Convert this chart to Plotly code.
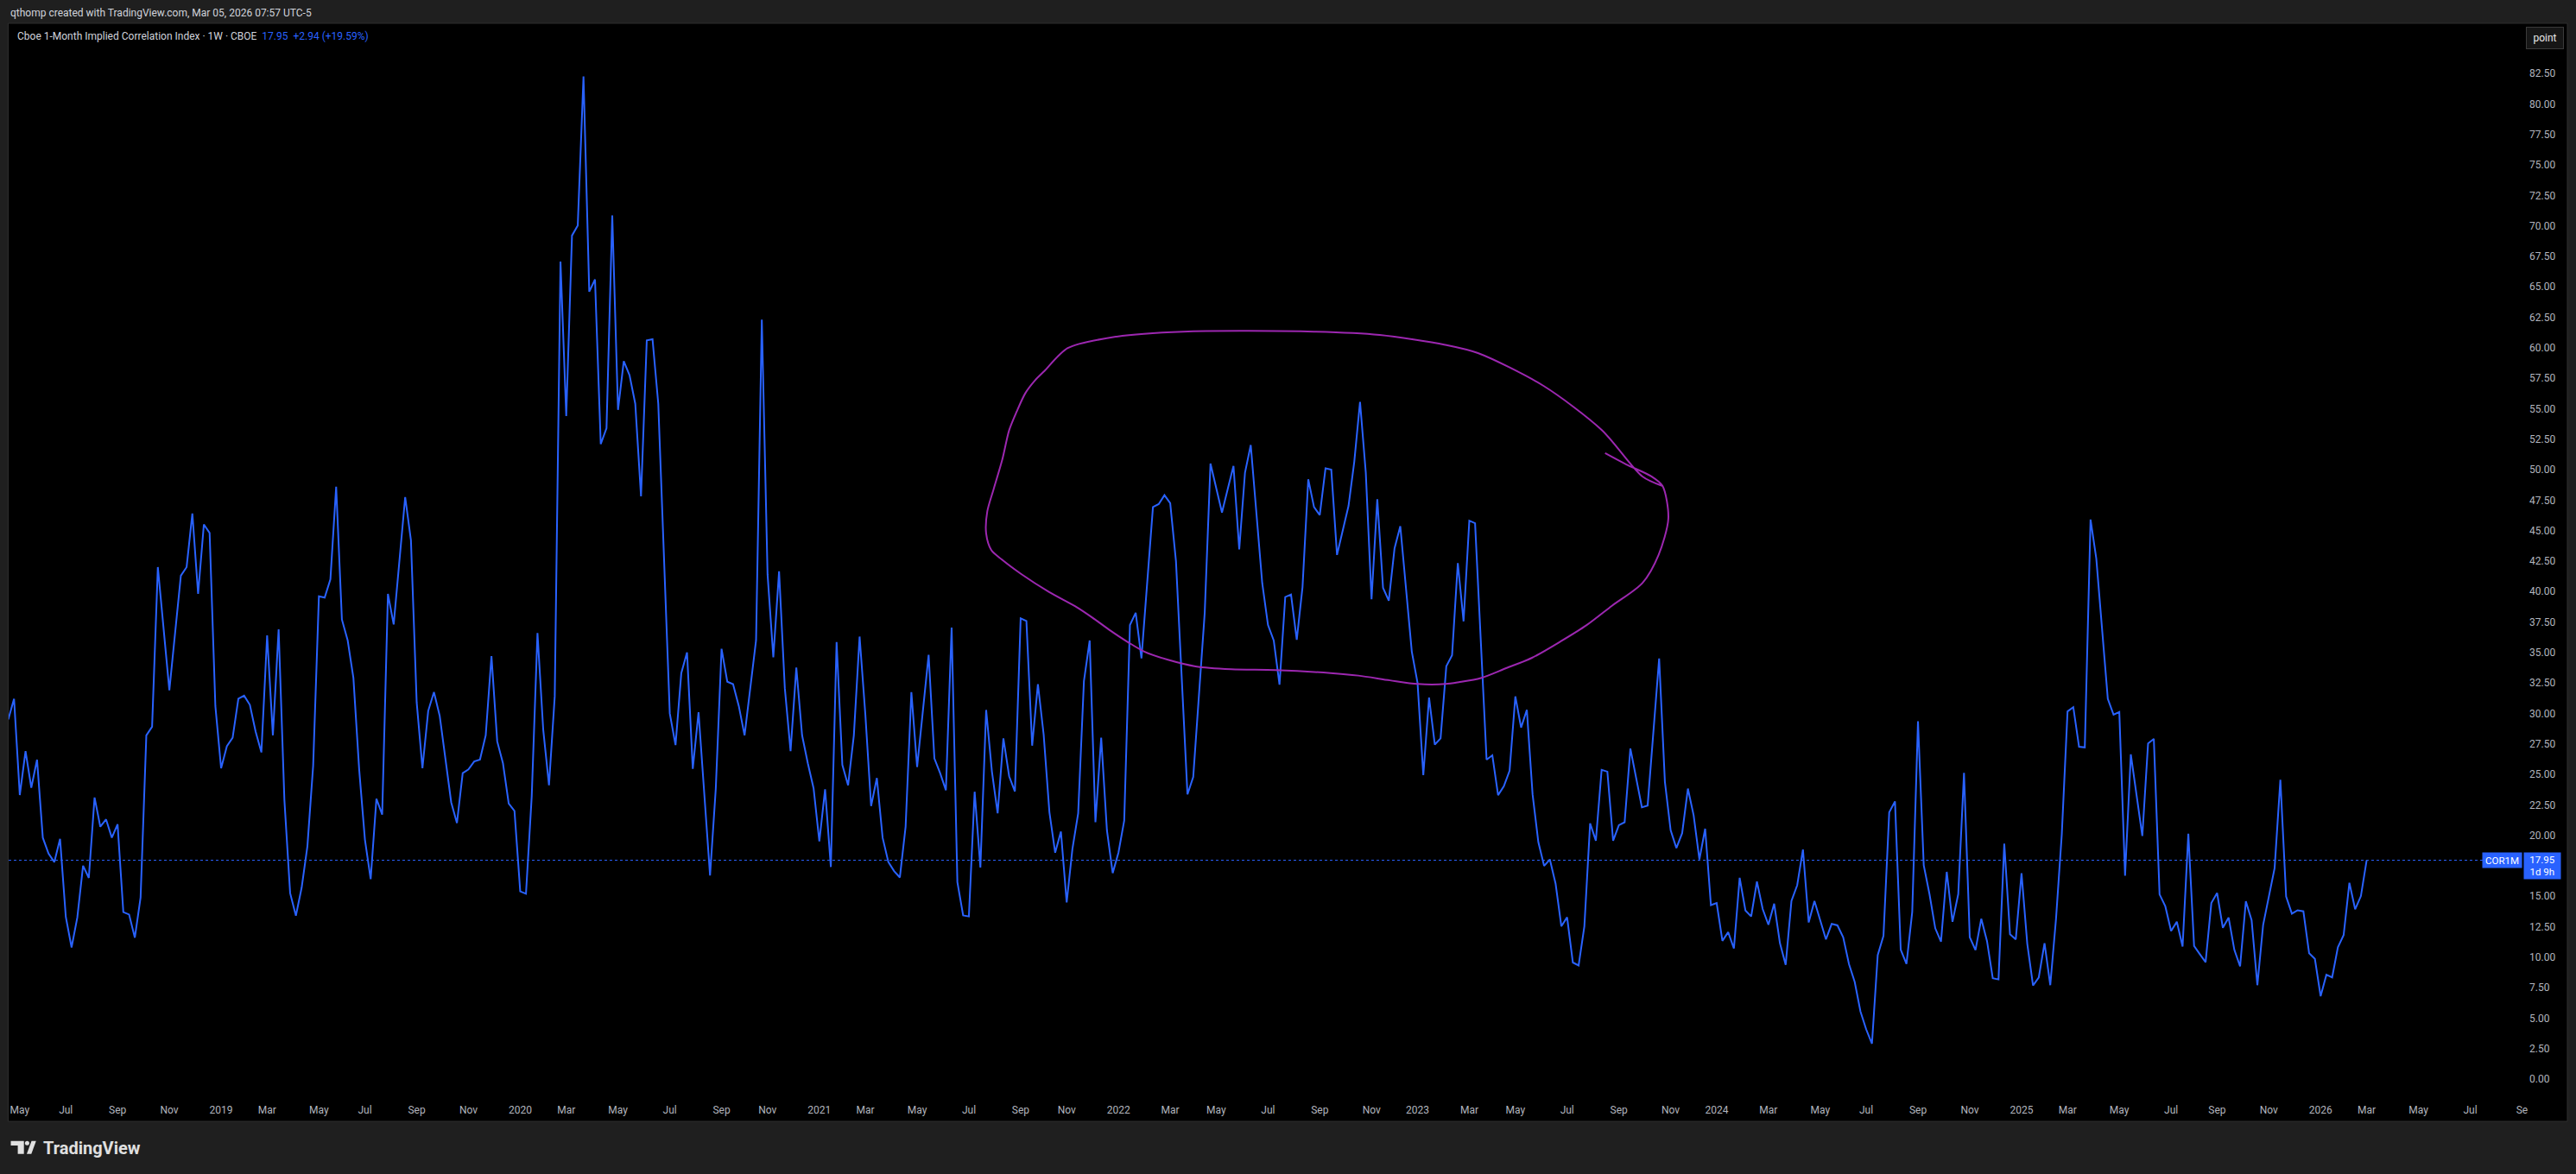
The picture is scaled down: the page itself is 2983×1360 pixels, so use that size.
import numpy as np
import pandas as pd
import plotly.graph_objects as go

# ---------------- data (weekly closes) ----------------
first_bar = "2018-04-23"
cor1m = [
    29.5, 31.2, 23.3, 26.9, 23.9, 26.2, 19.8, 18.5, 17.8, 19.7,
    13.3, 10.8, 13.25, 17.5, 16.5, 23.1, 20.7, 21.3, 19.8, 20.9,
    13.7, 13.5, 11.6, 14.9, 28.2, 28.9, 42.0, None, 31.9, None,
    41.3, 42.0, 46.4, 39.8, 45.5, 44.8, 30.6, 25.5, 27.3, 28.0,
    31.2, 31.45, 30.7, 28.5, 26.8, 36.4, 28.2, 36.9, 22.9, 15.25,
    13.4, 15.7, 19.1, 25.7, 39.6, 39.5, 41.0, 48.6, 37.7, 36.0,
    32.9, 25.4, 19.65, 16.4, 23.0, 21.7, 39.8, 37.3, None, 47.75,
    44.2, 30.9, 25.5, 30.2, 31.75, 29.8, 26.2, 22.7, 21.0, 25.1,
    25.4, 26.05, 26.2, 28.2, 34.7, 27.7, 25.9, 22.6, 22.0, 15.4,
    15.2, 23.2, 36.6, 28.65, 24.1, 31.4, 67.06, 54.4, 69.2, 70.03,
    82.25, 64.6, 65.6, 52.1, 53.4, 70.85, 54.9, 58.9, 57.75, 55.4,
    47.8, 60.6, 60.7, 55.4, None, 30.0, 27.4, 33.3, 35.0, 25.45,
    30.1, None, 16.7, 23.85, 35.3, 32.6, 32.4, 30.6, 28.2, 32.1,
    36.0, 62.3, 41.4, 34.6, 41.65, 32.07, 26.9, 33.76, 28.2, 25.9,
    23.85, 19.5, 23.77, 17.4, 35.85, 25.77, 24.1, 28.2, 36.3, 29.9,
    22.4, 24.7, 19.8, 17.8, 17.06, 16.54, 20.7, 31.74, 25.6, None,
    34.8, 26.3, 25.1, 23.7, 37.04, 16.15, 13.43, 13.34, 23.57, 17.36,
    30.28, 25.24, 21.8, 27.95, 24.84, 23.6, 37.8, 37.58, 27.35, 32.4,
    28.26, 21.9, 18.57, 20.3, 14.49, 18.88, 21.8, 32.65, 35.98, 21.08,
    28.0, 20.4, 16.9, 18.57, 21.2, 37.25, 38.25, 34.52, None, 46.93,
    47.17, 47.9, 47.24, 42.48, None, 23.35, 24.78, None, 38.25, 50.5,
    48.4, 46.48, 48.4, 50.3, 43.45, 49.75, 52.02, None, 40.67, 37.25,
    35.98, 32.35, 39.55, 39.76, 36.04, 40.36, 49.2, 46.93, 46.27, 50.11,
    49.99, 43.0, 45.0, 47.02, 50.65, 55.56, 49.75, 39.37, 47.57, 40.3,
    39.24, 43.54, 45.36, None, 35.07, 32.5, 24.93, 31.29, 27.44, 27.95,
    33.86, 34.77, 42.33, 37.55, 45.81, 45.6, None, 26.2, 26.56, 23.29,
    24.02, 25.3, 31.39, 28.83, 30.29, 23.34, 19.44, 17.49, 18.02, 16.02,
    12.53, 13.27, 9.56, 9.32, 12.53, 20.97, 19.56, 25.37, 25.22, 19.56,
    20.83, 21.07, 27.12, None, 22.29, 22.44, None, 34.51, 24.39, 20.41,
    18.95, 20.17, 23.83, 21.63, 18.02, 20.54, 14.27, 14.44, 11.34, 12.05,
    10.71, 16.51, 13.83, 13.34, 16.2, 13.95, 12.66, 14.39, 11.15, 9.37,
    14.61, 15.9, 18.83, 12.85, 14.61, 12.98, 11.46, 12.73, 12.61, 11.63,
    9.44, 7.97, 5.54, 4.07, 2.9, 10.17, 11.75, 21.88, 22.78, 10.61,
    9.44, 13.71, 29.36, 17.54, 15.17, 12.37, 11.27, 17.0, 12.9, 15.17,
    25.12, 11.63, 10.58, 13.15, 11.32, 8.27, 8.17, 19.32, 11.88, 11.46,
    16.88, 11.1, 7.67, 8.34, 11.14, 7.7, 13.17, 20.08, 30.16, 30.51,
    27.26, 27.21, 45.9, 42.7, None, 31.19, 29.89, 30.11, 16.69, 26.64,
    None, 19.94, 27.53, 27.91, 15.15, 14.17, 12.14, 12.9, 10.87, 20.13,
    10.92, 10.24, 9.59, 14.44, 15.26, 12.41, 13.25, 10.6, 9.24, 14.58,
    13.03, 7.7, 12.63, None, 17.31, 24.55, 14.98, 13.57, 13.85, 13.76,
    10.32, 9.86, 6.8, 8.56, 8.34, 10.81, 11.81, 16.1, 13.93, 15.01, 17.95,
]
last_value = 17.95

# freehand ellipse drawing (weeks after first bar, value)
circle_week = [277.6, 281.3, 285.6, 287.6, 288.6, 286.9, 284.1, 278.8, 274.4, 269.9,
               264.9, 260.4, 256.0, 252.2, 249.9, 245.0, 240.2, 234.7, 229.9, 220.2,
               212.6, 206.4, 201.6, 197.5, 194.7, 191.3, 188.5, 185.8, 180.9, 176.1,
               172.7, 170.9, 170.0, 170.2, 171.3, 172.8, 174.0, 175.3, 176.8, 178.5,
               180.1, 184.2, 192.7, 204.2, 227.0, 238.4, 249.8, 255.5, 266.9, 277.0,
               284.1, 287.6]
circle_value = [51.35, 50.42, 49.46, 48.65, 46.0, 43.0, 40.7, 38.83, 37.24, 35.91,
                34.56, 33.71, 32.9, 32.56, 32.41, 32.41, 32.71, 33.1, 33.31, 33.55,
                33.62, 33.86, 34.4, 35.07, 35.83, 36.89, 37.85, 38.7, 39.97, 41.43,
                42.63, 43.39, 44.76, 46.57, 48.39, 50.81, 53.23, 54.75, 56.26, 57.32,
                58.07, 59.97, 60.91, 61.32, 61.32, 61.05, 60.24, 59.56, 56.87, 53.26,
                49.43, 48.65]

tick_labels = ["May", "Jul", "Sep", "Nov",
               "2019", "Mar", "May", "Jul", "Sep", "Nov",
               "2020", "Mar", "May", "Jul", "Sep", "Nov",
               "2021", "Mar", "May", "Jul", "Sep", "Nov",
               "2022", "Mar", "May", "Jul", "Sep", "Nov",
               "2023", "Mar", "May", "Jul", "Sep", "Nov",
               "2024", "Mar", "May", "Jul", "Sep", "Nov",
               "2025", "Mar", "May", "Jul", "Sep", "Nov",
               "2026", "Mar", "May", "Jul", "Se"]
# 17.50 sits under the last-price label in the reference, so it is not shown
y_ticks = [v for v in np.arange(0, 82.51, 2.5) if abs(v - 17.5) > 1e-6]

# ---------------- layout geometry ----------------
W_FIG, H_FIG = 2983, 1360
ML, MR, MT, MB = 10, 62, 28, 89
PW = W_FIG - ML - MR
PH = H_FIG - MT - MB
PX_PER_WEEK = 6.662
PX_PER_UNIT = 14.12
ZERO_Y = 1250


def px(x):
    return (x - ML) / PW


def py(y):
    return (H_FIG - MB - y) / PH


start = pd.Timestamp(first_bar)
dates = pd.date_range(start, periods=len(cor1m), freq="7D")
circle_dates = start + pd.to_timedelta(np.array(circle_week) * 7, unit="D")

x0 = start + pd.Timedelta(days=(ML - 9.6) / PX_PER_WEEK * 7)
x1 = x0 + pd.Timedelta(days=PW / PX_PER_WEEK * 7 + 0.5)
y_lo = (ZERO_Y - (H_FIG - MB)) / PX_PER_UNIT
y_hi = (ZERO_Y - MT) / PX_PER_UNIT

tick_months = pd.date_range("2018-05-01", periods=len(tick_labels), freq="2MS")
tick_vals = [m + pd.Timedelta(days=(7 - m.weekday()) % 7) for m in tick_months]

BLUE = "#2962ff"
FONT = "Roboto, Liberation Sans, sans-serif"
AXIS_TXT = "#b2b5be"

fig = go.Figure()
fig.add_trace(go.Scatter(x=dates, y=cor1m, mode="lines", connectgaps=True,
                         line=dict(color=BLUE, width=2), hoverinfo="skip"))
fig.add_trace(go.Scatter(x=circle_dates, y=circle_value, mode="lines",
                         line=dict(color="#9c27b0", width=2, shape="spline", smoothing=0.8),
                         hoverinfo="skip"))

shapes = [
    # chart panel
    dict(type="rect", xref="paper", yref="paper", x0=px(9.5), x1=px(2973), y0=py(1299), y1=py(27),
         fillcolor="#000000", line=dict(color="#2e2e2e", width=1), layer="below"),
    # price line
    dict(type="line", xref="paper", yref="y", x0=0, x1=px(2875), y0=last_value, y1=last_value,
         line=dict(color=BLUE, width=1, dash="dot"), layer="below"),
    # TradingView logo
    dict(type="path", xref="paper", yref="paper",
         path="M {} {} L {} {} L {} {} L {} {} L {} {} L {} {} Z".format(
             px(12.5), py(1321.7), px(27.7), py(1321.7), px(27.7), py(1336.7),
             px(20.6), py(1336.7), px(20.6), py(1327.0), px(12.5), py(1327.0)),
         fillcolor="#e0e0e0", line=dict(width=0)),
    dict(type="circle", xref="paper", yref="paper", x0=px(28.9), x1=px(33.9), y0=py(1326.8), y1=py(1321.8),
         fillcolor="#e0e0e0", line=dict(width=0)),
    dict(type="path", xref="paper", yref="paper",
         path="M {} {} L {} {} L {} {} L {} {} Z".format(
             px(31.0), py(1336.7), px(36.5), py(1321.7), px(41.8), py(1321.7), px(36.3), py(1336.7)),
         fillcolor="#e0e0e0", line=dict(width=0)),
]

annotations = [
    dict(text="qthomp created with TradingView.com, Mar 05, 2026 07:57 UTC-5",
         xref="paper", yref="paper", x=px(9.6), y=py(15), xanchor="left", yanchor="middle",
         showarrow=False, font=dict(family=FONT, size=12, color="#d1d4dc")),
    dict(text="Cboe 1-Month Implied Correlation Index · 1W · CBOE&nbsp;&nbsp;"
              "<span style='color:#2962ff'>17.95&nbsp;&nbsp;+2.94 (+19.59%)</span>",
         xref="paper", yref="paper", x=px(18), y=py(42), xanchor="left", yanchor="middle",
         showarrow=False, font=dict(family=FONT, size=12, color="#d1d4dc")),
    dict(text="point", xref="paper", yref="paper", x=px(2947), y=py(44),
         xanchor="center", yanchor="middle", showarrow=False, width=40, height=22,
         bgcolor="#161616", bordercolor="#3a3a3a", borderwidth=1, borderpad=1,
         font=dict(family=FONT, size=12, color="#e6e6e6")),
    dict(text="COR1M", xref="paper", yref="paper", x=px(2897.5), y=py(996.5),
         xanchor="center", yanchor="middle", showarrow=False, width=43, height=15,
         bgcolor=BLUE, borderpad=1, font=dict(family=FONT, size=11.5, color="#ffffff")),
    dict(text="17.95<br>1d 9h", xref="paper", yref="paper", x=px(2944), y=py(1003),
         xanchor="center", yanchor="middle", showarrow=False, width=40, height=28,
         bgcolor=BLUE, borderpad=1, align="center",
         font=dict(family=FONT, size=11.5, color="#ffffff")),
    dict(text="<b>TradingView</b>", xref="paper", yref="paper", x=px(48), y=py(1330),
         xanchor="left", yanchor="middle", showarrow=False,
         font=dict(family=FONT, size=20, color="#e0e0e0")),
]

fig.update_layout(
    width=W_FIG, height=H_FIG,
    margin=dict(l=ML, r=MR, t=MT, b=MB, pad=0),
    paper_bgcolor="#1f1f1f", plot_bgcolor="#000000",
    showlegend=False, hovermode=False,
    shapes=shapes, annotations=annotations,
    xaxis=dict(type="date", range=[x0, x1], tickvals=tick_vals, ticktext=tick_labels,
               showgrid=False, zeroline=False, showline=False, ticks="",
               tickfont=dict(family=FONT, size=12, color=AXIS_TXT), ticklabelstandoff=6,
               fixedrange=True),
    yaxis=dict(range=[y_lo, y_hi], side="right", tickvals=y_ticks,
               ticktext=[f"{v:.2f}" for v in y_ticks],
               showgrid=False, zeroline=False, showline=False, ticks="",
               tickfont=dict(family=FONT, size=12, color=AXIS_TXT), ticklabelstandoff=7,
               fixedrange=True),
)

fig.write_html("out.html", config={"displayModeBar": False},
               post_script="document.body.style.margin='0';"
                           "document.body.style.background='#1f1f1f';")
